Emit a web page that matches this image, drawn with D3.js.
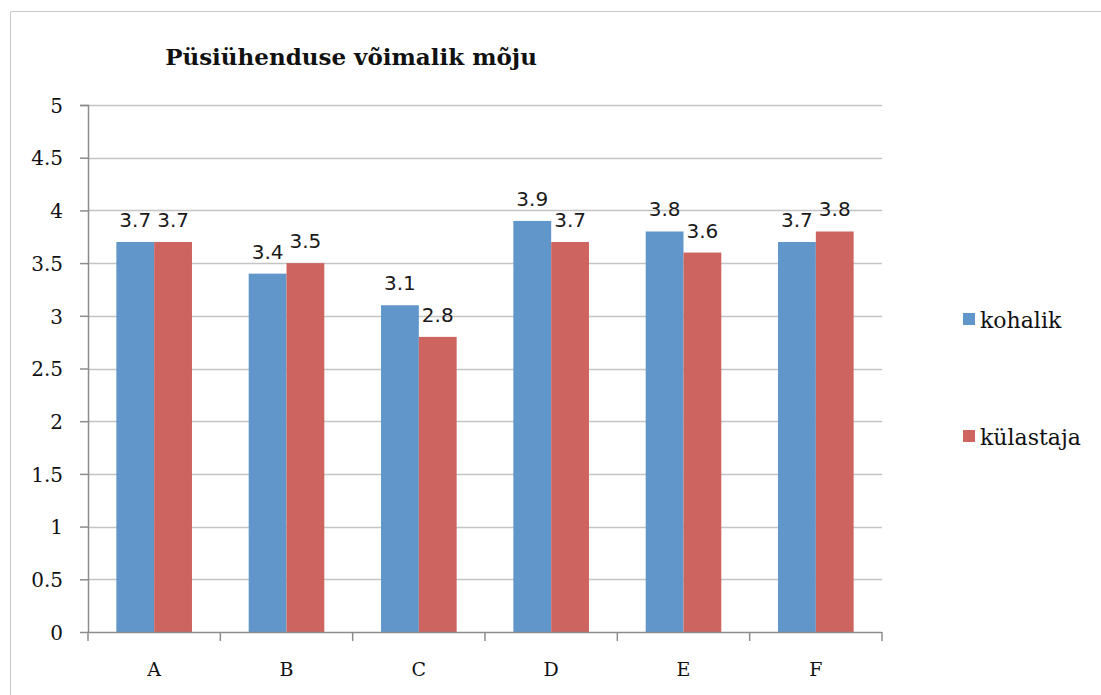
<!DOCTYPE html>
<html>
<head>
<meta charset="utf-8">
<script src="https://cdnjs.cloudflare.com/ajax/libs/d3/7.8.5/d3.min.js"></script>
<style>
  body { margin: 0; background: #fff; }
  svg { display: block; }
</style>
</head>
<body>
<div id="chart"></div>
<script>
// data
var categories = ["A", "B", "C", "D", "E", "F"];
var seriesNames = ["kohalik", "külastaja"];
var kohalik = [3.7, 3.4, 3.1, 3.9, 3.8, 3.7];
var kulastaja = [3.7, 3.5, 2.8, 3.7, 3.6, 3.8];
var yTicks = [0, 0.5, 1, 1.5, 2, 2.5, 3, 3.5, 4, 4.5, 5];
var colors = ["#6096c9", "#cd645f"];

var W = 1101, H = 695;
var margin = { top: 105, right: 219, bottom: 63, left: 88 },
  width = W - margin.left - margin.right,
  height = H - margin.top - margin.bottom;

var svg = d3.select("#chart")
  .append("svg")
  .attr("width", W)
  .attr("height", H);

// outer frame (top and left only visible)
svg.append("line")
  .attr("x1", 10.5).attr("y1", 11.5).attr("x2", W).attr("y2", 11.5)
  .attr("stroke", "#c8c8c8");
svg.append("line")
  .attr("x1", 10.5).attr("y1", 11.5).attr("x2", 10.5).attr("y2", H)
  .attr("stroke", "#c8c8c8");

// title
svg.append("text")
  .attr("x", 351)
  .attr("y", 65)
  .attr("text-anchor", "middle")
  .style("font-family", "'DejaVu Serif', serif")
  .style("font-weight", "bold")
  .style("font-size", "23px")
  .style("fill", "#111")
  .text("Püsiühenduse võimalik mõju");

var g = svg.append("g")
  .attr("transform", "translate(" + margin.left + "," + margin.top + ")");

var x = d3.scaleBand()
  .domain(categories)
  .range([0, width]);

var x1 = d3.scaleBand()
  .domain(seriesNames)
  .range([0, x.bandwidth()])
  .paddingInner(0)
  .paddingOuter(0.75);

var y = d3.scaleLinear()
  .domain([0, 5])
  .range([height, 0]);

// gridlines
g.append("g")
  .selectAll("line")
  .data(yTicks.slice(1))
  .enter().append("line")
  .attr("x1", 0)
  .attr("x2", width)
  .attr("y1", function(d) { return Math.round(y(d)) + 0.5; })
  .attr("y2", function(d) { return Math.round(y(d)) + 0.5; })
  .attr("stroke", "#c4c4c4")
  .attr("stroke-width", 1.5);

// bars
var rows = categories.map(function(c, i) {
  return { cat: c, vals: [kohalik[i], kulastaja[i]] };
});

var groups = g.selectAll(".grp")
  .data(rows)
  .enter().append("g")
  .attr("transform", function(d) { return "translate(" + x(d.cat) + ",0)"; });

groups.selectAll("rect")
  .data(function(d) { return d.vals.map(function(v, j) { return { s: seriesNames[j], v: v, j: j }; }); })
  .enter().append("rect")
  .attr("x", function(d) { return x1(d.s); })
  .attr("y", function(d) { return y(d.v); })
  .attr("width", x1.bandwidth())
  .attr("height", function(d) { return height - y(d.v); })
  .attr("fill", function(d) { return colors[d.j]; });

groups.selectAll(".lbl")
  .data(function(d) { return d.vals.map(function(v, j) { return { s: seriesNames[j], v: v, j: j }; }); })
  .enter().append("text")
  .attr("x", function(d) { return x1(d.s) + x1.bandwidth() / 2; })
  .attr("y", function(d) { return y(d.v) - 15; })
  .attr("text-anchor", "middle")
  .style("font-family", "'DejaVu Sans', sans-serif")
  .style("font-size", "20px")
  .style("fill", "#1a1a1a")
  .text(function(d) { return d.v.toFixed(1); });

// y axis
var yAxis = g.append("g")
  .call(d3.axisLeft(y).tickValues(yTicks).tickSize(8).tickPadding(17)
    .tickFormat(function(d) { return String(d); }));
yAxis.selectAll("line, path").attr("stroke", "#8c8c8c").attr("stroke-width", 1.5);
yAxis.select(".domain").attr("d", "M-8,0.5H0.5V" + height);
yAxis.selectAll("text")
  .style("font-family", "'DejaVu Serif', serif")
  .style("font-size", "20px")
  .style("fill", "#111")
  .attr("dy", "0.36em");

// x axis
var xAxis = g.append("g")
  .attr("transform", "translate(0," + height + ")")
  .call(d3.axisBottom(x).tickSize(0).tickPadding(31));
xAxis.select(".domain").attr("stroke", "#8c8c8c").attr("stroke-width", 1.5)
  .attr("d", "M0,0.5H" + width);
xAxis.selectAll("text")
  .style("font-family", "'DejaVu Serif', serif")
  .style("font-size", "19px")
  .style("fill", "#111");
xAxis.selectAll(".sep")
  .data(d3.range(categories.length + 1))
  .enter().append("line")
  .attr("x1", function(i) { return i * x.step(); })
  .attr("x2", function(i) { return i * x.step(); })
  .attr("y1", 0)
  .attr("y2", 9)
  .attr("stroke", "#8c8c8c")
  .attr("stroke-width", 1.5);

// legend
var legend = svg.append("g")
  .selectAll("g")
  .data(seriesNames)
  .enter().append("g")
  .attr("transform", function(d, i) { return "translate(963," + (313 + i * 117) + ")"; });
legend.append("rect")
  .attr("width", 12)
  .attr("height", 12)
  .attr("fill", function(d, i) { return colors[i]; });
legend.append("text")
  .attr("x", 17)
  .attr("y", 15)
  .style("font-family", "'DejaVu Serif', serif")
  .style("font-size", "22px")
  .style("fill", "#111")
  .text(function(d) { return d; });
</script>
</body>
</html>
